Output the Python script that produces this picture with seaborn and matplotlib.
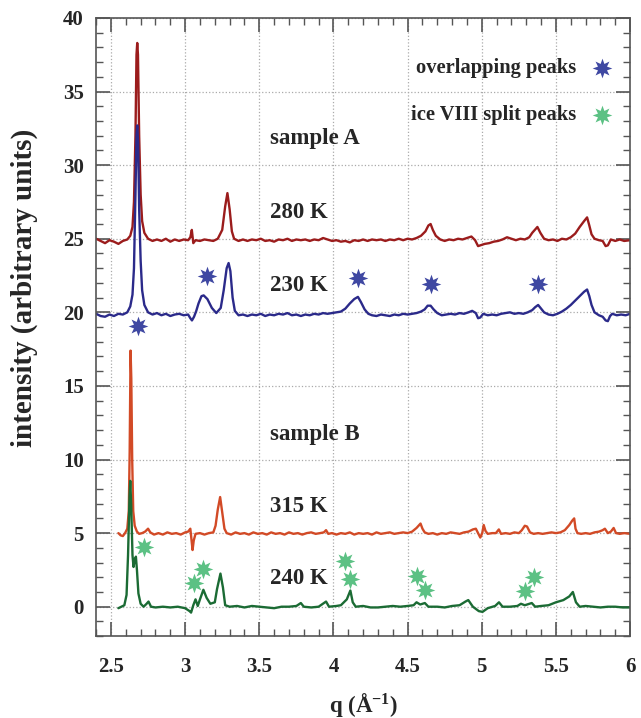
import numpy as np
import pandas as pd
import matplotlib
matplotlib.use("Agg")
import matplotlib.pyplot as plt
import seaborn as sns

# --- spectra: (q, intensity) ---
s280 = [(2.40, 25.0), (2.43, 24.85), (2.46, 24.7), (2.49, 24.9), (2.52, 24.8), (2.55, 24.65),
        (2.58, 24.85), (2.61, 24.95), (2.63, 25.2), (2.645, 25.8), (2.655, 27.5), (2.665, 32.0),
        (2.672, 37.5), (2.677, 38.3), (2.682, 37.5), (2.69, 32.0), (2.70, 28.0), (2.71, 26.2),
        (2.725, 25.4), (2.75, 25.0), (2.78, 24.85), (2.81, 24.95), (2.84, 24.85), (2.87, 25.0),
        (2.90, 24.8), (2.93, 24.95), (2.96, 24.85), (2.99, 24.95), (3.02, 24.9), (3.035, 25.1),
        (3.045, 25.6), (3.055, 24.7), (3.07, 24.9), (3.10, 24.85), (3.13, 24.95), (3.16, 24.9),
        (3.19, 24.85), (3.22, 25.0), (3.25, 25.6), (3.27, 27.2), (3.285, 28.1), (3.30, 27.0),
        (3.315, 25.5), (3.33, 25.0), (3.36, 24.85), (3.39, 24.95), (3.42, 24.85), (3.45, 24.95),
        (3.48, 24.9), (3.51, 25.0), (3.54, 24.85), (3.57, 24.9), (3.60, 24.8), (3.63, 24.95),
        (3.66, 24.9), (3.69, 25.0), (3.72, 24.85), (3.75, 24.95), (3.78, 24.9), (3.81, 24.95),
        (3.84, 24.85), (3.87, 24.95), (3.90, 24.9), (3.93, 25.05), (3.96, 24.95), (3.99, 24.85),
        (4.02, 24.9), (4.05, 24.8), (4.08, 24.85), (4.11, 24.75), (4.14, 24.9), (4.17, 24.85),
        (4.20, 24.95), (4.23, 24.85), (4.26, 24.95), (4.29, 24.9), (4.32, 24.95), (4.35, 24.85),
        (4.38, 24.95), (4.41, 24.9), (4.44, 25.0), (4.47, 24.9), (4.50, 25.0), (4.53, 24.95),
        (4.56, 25.05), (4.59, 25.2), (4.62, 25.5), (4.64, 25.9), (4.655, 26.0), (4.67, 25.6),
        (4.69, 25.2), (4.72, 24.95), (4.75, 24.85), (4.78, 24.95), (4.81, 24.9), (4.84, 25.0),
        (4.87, 24.95), (4.90, 25.05), (4.93, 25.15), (4.955, 24.9), (4.975, 24.5), (4.99, 24.55),
        (5.02, 24.65), (5.05, 24.7), (5.08, 24.8), (5.11, 24.85), (5.14, 24.95), (5.17, 25.1),
        (5.20, 25.0), (5.23, 24.9), (5.26, 25.0), (5.29, 24.95), (5.32, 25.1), (5.34, 25.4),
        (5.375, 25.8), (5.395, 25.4), (5.42, 25.0), (5.45, 24.9), (5.48, 24.95), (5.51, 24.85),
        (5.54, 25.0), (5.57, 24.95), (5.60, 25.1), (5.63, 25.35), (5.66, 25.8), (5.69, 26.2),
        (5.71, 26.45), (5.725, 25.9), (5.74, 25.3), (5.76, 25.0), (5.79, 24.9), (5.815, 24.85),
        (5.835, 24.5), (5.85, 24.55), (5.87, 24.95), (5.90, 24.85), (5.93, 24.95), (5.96, 24.85),
        (6.00, 24.9)]

s230 = [(2.40, 19.9), (2.43, 19.75), (2.46, 19.7), (2.49, 19.85), (2.52, 19.75), (2.55, 19.9),
        (2.58, 19.85), (2.61, 20.0), (2.63, 20.4), (2.645, 21.2), (2.655, 23.0), (2.665, 28.0),
        (2.672, 32.0), (2.677, 32.7), (2.683, 31.5), (2.69, 27.0), (2.70, 23.5), (2.71, 21.5),
        (2.725, 20.5), (2.75, 20.0), (2.78, 19.85), (2.81, 19.95), (2.84, 19.8), (2.87, 19.9),
        (2.90, 19.75), (2.93, 19.85), (2.96, 19.9), (2.99, 19.8), (3.02, 19.85), (3.035, 19.6),
        (3.046, 19.45), (3.06, 19.7), (3.075, 20.1), (3.09, 20.6), (3.11, 21.1), (3.125, 21.15),
        (3.15, 20.9), (3.18, 20.3), (3.21, 19.95), (3.24, 20.3), (3.26, 21.5), (3.28, 23.0),
        (3.293, 23.35), (3.305, 22.8), (3.32, 21.0), (3.335, 20.1), (3.36, 19.8), (3.39, 19.85),
        (3.42, 19.75), (3.45, 19.85), (3.48, 19.8), (3.51, 19.9), (3.54, 19.75), (3.57, 19.85),
        (3.60, 19.8), (3.63, 19.9), (3.66, 19.85), (3.69, 19.95), (3.72, 19.8), (3.75, 19.85),
        (3.78, 19.75), (3.81, 19.85), (3.84, 19.8), (3.87, 19.9), (3.90, 19.85), (3.93, 19.95),
        (3.96, 19.9), (3.99, 19.95), (4.02, 20.0), (4.05, 20.05), (4.08, 20.25), (4.11, 20.6),
        (4.14, 20.9), (4.165, 21.05), (4.185, 20.7), (4.21, 20.2), (4.235, 19.9), (4.26, 19.8),
        (4.29, 19.75), (4.32, 19.85), (4.35, 19.8), (4.38, 19.75), (4.41, 19.85), (4.44, 19.8),
        (4.47, 19.9), (4.50, 19.85), (4.53, 19.9), (4.56, 19.95), (4.59, 20.05), (4.615, 20.2),
        (4.635, 20.45), (4.655, 20.45), (4.675, 20.2), (4.70, 19.95), (4.73, 19.8), (4.76, 19.85),
        (4.79, 19.9), (4.82, 19.85), (4.85, 19.95), (4.88, 19.9), (4.91, 20.0), (4.935, 20.1),
        (4.96, 19.95), (4.975, 19.6), (4.99, 19.65), (5.01, 19.9), (5.04, 19.8), (5.07, 19.85),
        (5.10, 19.8), (5.13, 19.9), (5.16, 19.95), (5.19, 20.0), (5.22, 19.9), (5.25, 19.95),
        (5.28, 19.9), (5.31, 20.0), (5.34, 20.15), (5.36, 20.35), (5.38, 20.5), (5.40, 20.25),
        (5.42, 20.0), (5.45, 19.85), (5.48, 19.8), (5.51, 19.9), (5.54, 20.05), (5.57, 20.25),
        (5.60, 20.5), (5.63, 20.8), (5.66, 21.1), (5.69, 21.4), (5.71, 21.55), (5.725, 21.1),
        (5.74, 20.5), (5.76, 20.0), (5.79, 19.8), (5.815, 19.7), (5.835, 19.45), (5.85, 19.4),
        (5.865, 19.75), (5.88, 19.9), (5.91, 19.8), (5.94, 19.85), (5.97, 19.8), (6.00, 19.9)]

s315 = [(2.55, 5.0), (2.565, 4.85), (2.58, 4.8), (2.595, 5.0), (2.61, 5.3), (2.62, 6.5),
        (2.626, 10.5), (2.632, 17.4), (2.637, 15.5), (2.643, 10.0), (2.65, 6.5), (2.66, 5.5),
        (2.675, 5.1), (2.69, 4.95), (2.71, 5.0), (2.73, 5.1), (2.75, 5.3), (2.765, 5.05),
        (2.79, 4.9), (2.82, 5.0), (2.85, 4.9), (2.88, 5.05), (2.91, 4.95), (2.94, 5.0),
        (2.97, 4.9), (3.00, 5.05), (3.02, 5.1), (3.035, 5.3), (3.043, 4.5), (3.05, 3.85),
        (3.058, 4.5), (3.07, 4.95), (3.10, 5.0), (3.13, 4.9), (3.16, 5.0), (3.19, 5.05),
        (3.205, 5.5), (3.22, 6.6), (3.236, 7.45), (3.25, 6.4), (3.265, 5.3), (3.28, 5.0),
        (3.31, 4.9), (3.34, 5.05), (3.37, 4.95), (3.40, 5.0), (3.43, 4.9), (3.46, 5.05),
        (3.49, 4.95), (3.52, 5.0), (3.55, 4.9), (3.58, 5.05), (3.61, 4.95), (3.64, 5.0),
        (3.67, 4.9), (3.70, 5.05), (3.73, 4.95), (3.76, 5.0), (3.79, 4.9), (3.82, 5.0),
        (3.85, 5.05), (3.88, 4.95), (3.91, 5.0), (3.935, 5.05), (3.95, 5.2), (3.965, 4.95),
        (3.99, 5.0), (4.02, 4.9), (4.05, 5.0), (4.08, 4.95), (4.11, 5.05), (4.14, 4.9),
        (4.17, 5.0), (4.20, 4.95), (4.23, 5.0), (4.26, 4.9), (4.29, 5.05), (4.32, 4.95),
        (4.35, 5.0), (4.38, 5.05), (4.41, 4.95), (4.44, 5.0), (4.47, 5.05), (4.50, 5.0),
        (4.53, 5.1), (4.56, 5.35), (4.587, 5.65), (4.60, 5.3), (4.615, 5.05), (4.64, 4.95),
        (4.67, 5.0), (4.70, 4.9), (4.73, 5.0), (4.76, 4.95), (4.79, 5.05), (4.82, 5.0),
        (4.85, 4.95), (4.88, 5.05), (4.91, 5.1), (4.94, 5.25), (4.96, 5.3), (4.975, 5.0),
        (4.99, 4.7), (5.003, 5.0), (5.013, 5.55), (5.025, 5.15), (5.04, 4.95), (5.07, 5.0),
        (5.095, 5.0), (5.115, 5.25), (5.13, 4.95), (5.16, 5.0), (5.19, 4.95), (5.22, 5.05),
        (5.25, 5.0), (5.27, 5.2), (5.29, 5.5), (5.305, 5.45), (5.325, 5.05), (5.35, 4.95),
        (5.38, 5.0), (5.41, 4.95), (5.44, 5.0), (5.47, 5.05), (5.50, 5.0), (5.53, 5.05),
        (5.56, 5.2), (5.59, 5.55), (5.61, 5.85), (5.623, 6.0), (5.632, 5.3), (5.645, 5.0),
        (5.67, 4.95), (5.70, 5.0), (5.73, 4.95), (5.76, 5.05), (5.79, 5.1), (5.815, 5.2),
        (5.83, 5.3), (5.85, 5.0), (5.87, 5.1), (5.889, 5.35), (5.905, 5.0), (5.93, 4.95),
        (5.96, 5.0), (6.00, 4.95)]

s240 = [(2.55, -0.1), (2.57, 0.0), (2.59, 0.1), (2.605, 0.8), (2.615, 3.5), (2.625, 7.5),
        (2.63, 8.55), (2.636, 7.0), (2.645, 3.5), (2.652, 2.7), (2.66, 3.2), (2.668, 3.4),
        (2.675, 2.5), (2.685, 0.9), (2.70, 0.2), (2.72, 0.0), (2.74, 0.2), (2.753, 0.35),
        (2.77, 0.0), (2.80, -0.05), (2.85, 0.0), (2.90, -0.05), (2.95, 0.0), (3.00, -0.1),
        (3.03, -0.3), (3.04, -0.4), (3.055, 0.1), (3.07, 0.5), (3.085, 0.05), (3.10, 0.5),
        (3.123, 1.15), (3.145, 0.6), (3.17, 0.2), (3.20, 0.3), (3.215, 1.2), (3.238, 2.25),
        (3.255, 1.3), (3.27, 0.1), (3.30, 0.0), (3.35, 0.05), (3.40, -0.05), (3.45, 0.05),
        (3.50, 0.0), (3.55, -0.05), (3.60, -0.1), (3.65, 0.0), (3.70, 0.0), (3.75, 0.05),
        (3.78, 0.25), (3.80, 0.0), (3.85, -0.05), (3.90, 0.0), (3.95, 0.35), (3.97, 0.0),
        (4.02, 0.05), (4.05, 0.1), (4.09, 0.5), (4.114, 1.1), (4.13, 0.3), (4.15, 0.0),
        (4.20, 0.05), (4.25, -0.05), (4.30, -0.05), (4.35, 0.0), (4.40, 0.05), (4.45, 0.0),
        (4.50, 0.05), (4.54, 0.1), (4.56, 0.3), (4.585, 0.15), (4.616, 0.25), (4.64, 0.0),
        (4.70, 0.0), (4.75, -0.05), (4.80, 0.05), (4.85, 0.1), (4.89, 0.35), (4.909, 0.45),
        (4.94, 0.0), (4.98, -0.3), (5.005, -0.35), (5.04, -0.1), (5.09, 0.05), (5.116, 0.3),
        (5.14, 0.0), (5.19, 0.0), (5.24, 0.05), (5.264, 0.2), (5.29, 0.1), (5.337, 0.25),
        (5.36, 0.0), (5.40, 0.05), (5.45, 0.1), (5.50, 0.3), (5.55, 0.45), (5.59, 0.7),
        (5.614, 1.0), (5.635, 0.3), (5.66, 0.0), (5.70, 0.05), (5.75, 0.0), (5.80, -0.05),
        (5.85, 0.0), (5.90, 0.0), (5.95, -0.05), (6.00, -0.05)]

# star markers
overlap_q = [2.68, 3.145, 4.164, 4.66, 5.38]
overlap_i = [19.1, 22.45, 22.3, 21.95, 21.95]
split_q = [2.72, 3.062, 3.123, 4.076, 4.114, 4.56, 4.618, 5.292, 5.353]
split_i = [4.05, 1.6, 2.56, 3.08, 1.9, 2.06, 1.11, 1.04, 1.99]

labels = [("sample A", 31.8), ("280 K", 26.8), ("230 K", 21.8),
          ("sample B", 11.7), ("315 K", 6.8), ("240 K", 1.9)]

series = [(s280, "#9b1c1c"), (s230, "#2b2a8a"), (s315, "#d24a26"), (s240, "#1b6b34")]
blue_star = "#3f48a2"
green_star = "#5cc184"

sns.set_style("ticks")
plt.rcParams["font.family"] = ["Liberation Serif", "DejaVu Serif"]
plt.rcParams["font.weight"] = "bold"
plt.rcParams["mathtext.fontset"] = "custom"
plt.rcParams["mathtext.rm"] = "Liberation Serif:bold"
plt.rcParams["mathtext.bf"] = "Liberation Serif:bold"
plt.rcParams["mathtext.default"] = "bf"

fig = plt.figure(figsize=(6.41, 7.18), dpi=100)
ax = fig.add_axes([0.150, 0.114, 0.833, 0.861])

for data, col in series:
    df = pd.DataFrame(data, columns=["q", "I"])
    sns.lineplot(data=df, x="q", y="I", color=col, lw=1.7, ax=ax, sort=False)

star = (8, 1, 0)
sns.scatterplot(x=overlap_q, y=overlap_i, marker=star, s=200, color=blue_star,
                linewidth=0, ax=ax, zorder=5)
sns.scatterplot(x=split_q, y=split_i, marker=star, s=200, color=green_star,
                linewidth=0, ax=ax, zorder=5)

# key in the top right
ax.text(5.64, 36.6, "overlapping peaks", ha="right", va="center", fontsize=14.8, fontweight="bold")
ax.text(5.64, 33.4, "ice VIII split peaks", ha="right", va="center", fontsize=14.8, fontweight="bold")
ax.scatter([5.81], [36.6], marker=star, s=200, color=blue_star, linewidth=0, zorder=5)
ax.scatter([5.81], [33.4], marker=star, s=200, color=green_star, linewidth=0, zorder=5)

for txt, y in labels:
    ax.text(3.575, y, txt, ha="left", va="center", fontsize=16.5, fontweight="bold")

ax.set_xlim(2.4, 6.0)
ax.set_ylim(-2, 40)
ax.set_xticks(np.arange(2.5, 6.01, 0.5))
ax.set_xticklabels(["2.5", "3", "3.5", "4", "4.5", "5", "5.5", "6"])
ax.set_yticks(np.arange(0, 41, 5))
ax.set_xticks(np.arange(2.4, 6.001, 0.1), minor=True)
ax.set_yticks(np.arange(-2, 40.01, 1), minor=True)
ax.tick_params(which="both", direction="in", top=True, right=True, labelsize=15, color="#555555")
ax.tick_params(which="major", length=10, width=1.2)
ax.tick_params(axis="x", which="major", pad=15)
ax.tick_params(axis="y", which="major", pad=9)
ax.tick_params(which="minor", length=5, width=1.0)
ax.grid(True, which="major", linestyle=":", color="#aaaaaa", lw=0.9)
for sp in ax.spines.values():
    sp.set_color("#555555")
    sp.set_linewidth(1.2)

ax.set_xlabel("q (Å$^{-1}$)", fontsize=16.5, fontweight="bold")
ax.set_ylabel("intensity (arbitrary units)", fontsize=21, fontweight="bold")
ax.xaxis.set_label_coords(0.5, -0.088)
ax.yaxis.set_label_coords(-0.108, 0.563)

fig.savefig("out.png", dpi=100)
